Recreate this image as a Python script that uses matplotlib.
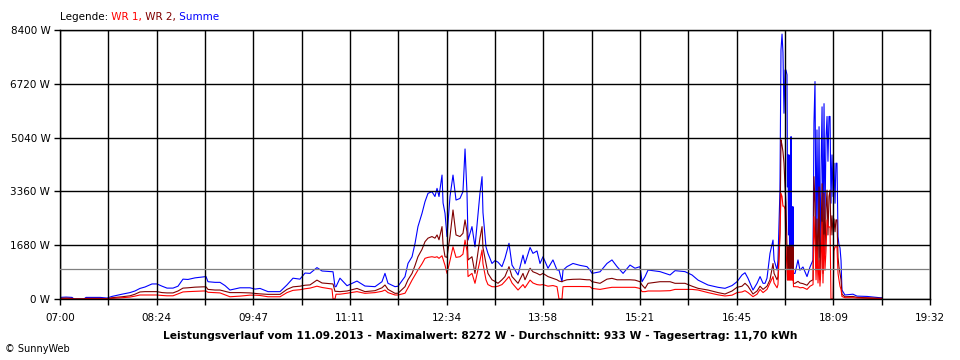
import matplotlib
matplotlib.use("Agg")
import matplotlib.pyplot as plt
import numpy as np


# minutes after 07:00
minutes = [
	0.0, 5.2, 10.4, 12.1, 20.7, 22.5, 34.6, 40.6, 44.9, 53.6,
	60.5, 64.8, 69.1, 73.5, 79.5, 83.8, 88.2, 92.5, 97.7, 102.0,
	106.3, 110.6, 116.7, 123.6, 126.2, 127.9, 134.0, 138.3, 142.6, 146.9,
	155.6, 164.2, 168.6, 172.9, 179.8, 190.2, 196.2, 201.4, 207.4, 211.8,
	216.1, 222.1, 226.5, 235.1, 236.0, 237.7, 238.6, 242.0, 248.1, 256.7,
	263.6, 272.3, 278.3, 280.9, 283.5, 289.6, 292.2, 298.2, 300.8, 304.3,
	306.9, 309.4, 312.9, 315.5, 318.1, 321.5, 324.1, 325.9, 327.6, 330.2,
	331.1, 332.8, 334.5, 337.1, 339.7, 342.3, 345.7, 348.3, 350.1, 351.8,
	352.7, 356.1, 358.7, 363.0, 364.8, 365.6, 368.2, 369.9, 373.4, 376.0,
	378.6, 382.0, 384.6, 388.1, 390.7, 395.9, 400.2, 401.9, 406.3, 408.8,
	412.3, 414.9, 417.5, 421.8, 426.1, 429.6, 431.3, 433.9, 434.8, 438.2,
	443.4, 449.5, 455.5, 458.1, 459.9, 466.8, 472.8, 477.1, 481.5, 486.7,
	492.7, 497.0, 501.3, 503.1, 505.7, 508.3, 518.6, 527.3, 531.6, 540.2,
	546.3, 551.5, 560.1, 568.8, 574.8, 580.9, 585.2, 589.5, 592.1, 594.7,
	599.0, 602.5, 605.1, 607.7, 609.4, 611.1, 613.7, 616.3, 617.2, 619.8,
	620.6, 622.3, 623.2, 624.1, 624.9, 625.8, 626.7, 627.5, 628.4, 628.8,
	629.3, 629.7, 630.1, 630.6, 631.0, 631.4, 631.9, 632.3, 632.7, 633.2,
	633.6, 634.0, 635.3, 637.9, 639.6, 642.2, 645.7, 648.3, 650.9, 651.7,
	652.6, 653.5, 654.3, 655.2, 656.1, 656.9, 657.8, 658.7, 659.5, 660.4,
	661.2, 662.1, 663.0, 663.8, 664.7, 665.6, 666.4, 667.3, 668.2, 669.0,
	669.9, 670.7, 671.6, 672.5, 673.3, 674.2, 675.1, 675.9, 678.5, 685.4,
	688.9, 697.6, 708.8, 710.5,
]

summe = [
	50, 60, 50, 0, 0, 50, 50, 30, 80, 150,
	200, 250, 330, 375, 470, 470, 400, 340, 340, 400,
	620, 610, 660, 690, 700, 540, 520, 520, 420, 280,
	350, 350, 310, 330, 230, 230, 440, 650, 620, 810,
	800, 980, 875, 850, 850, 385, 385, 650, 415, 560,
	405, 385, 540, 800, 490, 385, 400, 700, 1110, 1320,
	1740, 2260, 2675, 3040, 3300, 3350, 3200, 3455, 3200, 3870,
	3000, 2675, 1950, 3200, 3870, 3090, 3140, 3350, 4685, 3300,
	1840, 2260, 1630, 3300, 3820, 2700, 1630, 1425, 1110, 1200,
	1150, 1010, 1270, 1740, 1060, 750, 1370, 1100, 1610, 1425,
	1500, 1110, 1320, 960, 1220, 905, 905, 540, 900, 1010,
	1110, 1050, 1010, 905, 800, 850, 1110, 1220, 1010, 800,
	1060, 960, 1010, 540, 700, 905, 855, 750, 885, 855,
	750, 590, 437, 365, 333, 420, 540, 750, 820, 645,
	280, 490, 700, 490, 490, 650, 1425, 1840, 1220, 905,
	1220, 3400, 7780, 8272, 7700, 5800, 7150, 7150, 7000, 3500,
	4500, 2000, 4500, 1500, 2870, 1300, 5070, 1220, 2880, 1220,
	2880, 800, 800, 1220, 900, 1000, 700, 1000, 1220, 5490,
	6790, 1500, 5280, 1950, 5380, 1300, 4000, 6000, 1500, 6100,
	2500, 5000, 5700, 4300, 5700, 5700, 2990, 4500, 3200, 4240,
	2990, 4240, 4240, 1950, 1700, 1600, 1200, 280, 125, 150,
	90, 80, 40, 40,
]

wr2 = [
	20, 30, 20, 0, 0, 20, 20, 10, 40, 70,
	100, 150, 220, 230, 230, 230, 200, 190, 190, 250,
	340, 350, 370, 380, 380, 300, 280, 280, 240, 200,
	200, 190, 175, 160, 145, 145, 300, 380, 400, 430,
	440, 590, 500, 470, 470, 240, 240, 230, 250, 330,
	230, 260, 350, 437, 300, 177, 180, 385, 600, 800,
	1050, 1320, 1550, 1790, 1900, 1950, 1900, 2000, 1850, 2260,
	1700, 1320, 1300, 1950, 2780, 2000, 1950, 2050, 2470, 2100,
	1220, 1320, 800, 1900, 2260, 1600, 1110, 800, 600, 550,
	490, 600, 700, 1010, 700, 490, 800, 600, 960, 850,
	800, 750, 800, 700, 645, 600, 560, 540, 560, 600,
	615, 620, 600, 600, 540, 490, 620, 645, 600, 600,
	600, 590, 540, 437, 333, 490, 540, 540, 490, 490,
	400, 333, 280, 200, 156, 250, 365, 400, 490, 400,
	156, 250, 400, 300, 350, 400, 600, 1110, 800, 600,
	700, 2050, 4970, 4800, 4600, 4240, 3500, 3000, 1630, 960,
	1630, 960, 1630, 960, 1630, 960, 1630, 960, 1630, 960,
	1630, 490, 490, 550, 500, 480, 430, 550, 600, 3820,
	3000, 900, 2500, 900, 3500, 600, 2000, 3600, 800, 3300,
	1400, 2800, 3400, 2000, 3200, 3400, 2000, 2600, 2000, 2500,
	2100, 2470, 2470, 1300, 1000, 800, 600, 150, 70, 80,
	50, 40, 20, 20,
]

wr1 = [
	10, 10, 10, 0, 0, 10, 10, 5, 20, 40,
	60, 90, 125, 125, 125, 125, 110, 100, 100, 160,
	220, 230, 240, 250, 250, 210, 200, 190, 130, 70,
	90, 120, 120, 110, 70, 70, 200, 270, 290, 320,
	340, 400, 360, 310, 0, 0, 150, 150, 180, 230,
	177, 200, 240, 280, 200, 125, 125, 180, 350, 590,
	750, 905, 1100, 1270, 1300, 1320, 1300, 1320, 1270, 1350,
	1250, 1050, 800, 1200, 1630, 1300, 1320, 1400, 1840, 1500,
	700, 800, 490, 1200, 1530, 1100, 600, 450, 385, 380,
	400, 450, 550, 700, 500, 280, 450, 350, 590, 500,
	450, 437, 450, 400, 420, 385, 0, 0, 385, 390,
	390, 390, 385, 385, 330, 300, 340, 365, 365, 365,
	365, 365, 330, 230, 230, 250, 250, 260, 300, 300,
	300, 280, 200, 130, 94, 120, 200, 220, 260, 200,
	73, 150, 300, 200, 250, 300, 500, 700, 500, 350,
	450, 1950, 3300, 3200, 2900, 2900, 2800, 1600, 900, 590,
	905, 590, 905, 590, 905, 590, 905, 590, 905, 590,
	905, 385, 385, 380, 350, 360, 300, 400, 450, 2570,
	1800, 600, 1630, 500, 1200, 400, 1000, 2400, 500, 2000,
	900, 1500, 2470, 2250, 2250, 2250, 0, 0, 0, 1500,
	1630, 1630, 1630, 800, 600, 400, 300, 80, 40, 40,
	30, 20, 10, 10,
]

x_labels = ["07:00", "08:24", "09:47", "11:11", "12:34", "13:58", "15:21", "16:45", "18:09", "19:32"]
y_ticks = [0, 1680, 3360, 5040, 6720, 8400]
average = 933
title = "Leistungsverlauf vom 11.09.2013 - Maximalwert: 8272 W - Durchschnitt: 933 W - Tagesertrag: 11,70 kWh"


def plot_graph():

	span = 752.0  # 07:00 .. 19:32

	fig = plt.figure(figsize=(9.6, 3.6), dpi=100)
	ax = fig.add_axes([60 / 960, 61 / 360, 870 / 960, 269 / 360])

	# gridlines over the data, like the original
	ax.set_axisbelow(False)

	ax.plot(minutes, summe, color="#0000FF", lw=0.8, zorder=2)
	ax.plot(minutes, wr2, color="#800000", lw=0.8, zorder=2)
	ax.plot(minutes, wr1, color="#FF0000", lw=0.8, zorder=2)

	ax.axhline(average, color="#808080", lw=0.9, zorder=3)

	ax.set_xlim(0, span)
	ax.set_ylim(0, 8400)

	ticks = np.linspace(0, span, 19)
	ax.set_xticks(ticks)
	tick_labels = []
	for i in range(len(ticks)):
		if (i % 2 == 0):
			tick_labels.append(x_labels[i // 2])
		else:
			tick_labels.append("")
		#end_if
	#end_for
	ax.set_xticklabels(tick_labels)

	ax.set_yticks(y_ticks)
	ax.set_yticklabels(["%d W" % v for v in y_ticks])

	ax.grid(True, color="black", lw=1.0)
	for side in ["left", "right", "top", "bottom"]:
		ax.spines[side].set_color("black")
		ax.spines[side].set_linewidth(1.0)
	#end_for

	ax.tick_params(axis="both", direction="out", length=4, width=1.0, colors="black", labelsize=7.5)
	ax.tick_params(axis="x", pad=6)
	ax.tick_params(axis="y", pad=3)

	# legend line on top, coloured words
	t0 = fig.text(60 / 960, 1 - 22 / 360, "Legende:", fontsize=7.5, color="black", va="bottom")
	t1 = fig.text(0, 0, " WR 1,", fontsize=7.5, color="#FF0000", va="bottom")
	t2 = fig.text(0, 0, " WR 2,", fontsize=7.5, color="#800000", va="bottom")
	t3 = fig.text(0, 0, " Summe", fontsize=7.5, color="#0000FF", va="bottom")

	fig.canvas.draw()
	renderer = fig.canvas.get_renderer()
	prev = t0
	for t in [t1, t2, t3]:
		bb = prev.get_window_extent(renderer).transformed(fig.transFigure.inverted())
		t.set_position((bb.x1, bb.y0))
		prev = t
	#end_for

	fig.text(480 / 960, 1 - 336 / 360, title, fontsize=7.7, fontweight="bold", ha="center", va="center")
	fig.text(5 / 960, 1 - 349 / 360, "\u00a9 SunnyWeb", fontsize=7, ha="left", va="center")

	fig.savefig("out.png", dpi=100)

	return

#end_def


def main():

	plot_graph()

	return

#end_def


main()
